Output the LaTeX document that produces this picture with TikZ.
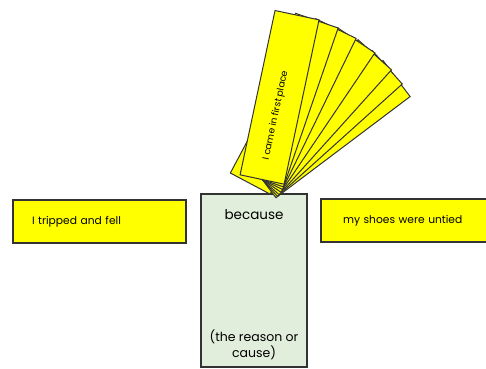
\documentclass[tikz,border=0pt]{standalone}
\usepackage{fontspec}
\setmainfont{Poppins}
\usetikzlibrary{calc}
\definecolor{cardyellow}{HTML}{FFFF00}
\definecolor{boxgreen}{HTML}{E2EEDC}
\definecolor{edgegray}{HTML}{333333}

\begin{document}
\begin{tikzpicture}[x=1pt,y=1pt,
	card/.style={draw=edgegray,fill=cardyellow,line width=1pt,minimum width=168pt,minimum height=45pt,inner sep=0pt},
	strip/.style={draw=edgegray,fill=cardyellow,line width=1.1pt,minimum height=43pt,text width=135pt,align=left,inner sep=0pt},
	words/.style={font=\fontsize{10.7}{12}\selectfont}]
	\useasboundingbox (0,0) rectangle (486,368);
	\clip (0,0) rectangle (486,368);

	% the two halves of the sentence
	\node[strip,words,minimum width=173pt] (effect) at (99.5,146.5) {I tripped and fell};
	\node[strip,words,minimum width=179pt] (cause) at (410.5,147.5) {my shoes were untied};

	% the joining word
	\node[draw=edgegray,fill=boxgreen,line width=1.1pt,minimum width=106pt,minimum height=173pt] (reason) at (254,87.5) {};
	\node[font=\fontsize{13.5}{15}\selectfont] (because) at (254,153) {because};
	\node[font=\fontsize{12.5}{16}\selectfont,align=center] (note) at (254,23) {(the reason or\\cause)};

	% fan of cards
	\node[card,rotate=62,anchor=west] (stray) at (250,184) {};
	\foreach \a in {53,48,42,34,26,19}
		\node[card,rotate=90-\a,anchor=west] (card\a) at (262,188) {};
	\node[card,rotate=78,anchor=west] (first) at (262,188) {};
	\node[font=\fontsize{9.3}{10}\selectfont,rotate=78] (firsttext) at ($(first.west)!0.39!(first.east)$) {I came in first place};
\end{tikzpicture}
\end{document}
